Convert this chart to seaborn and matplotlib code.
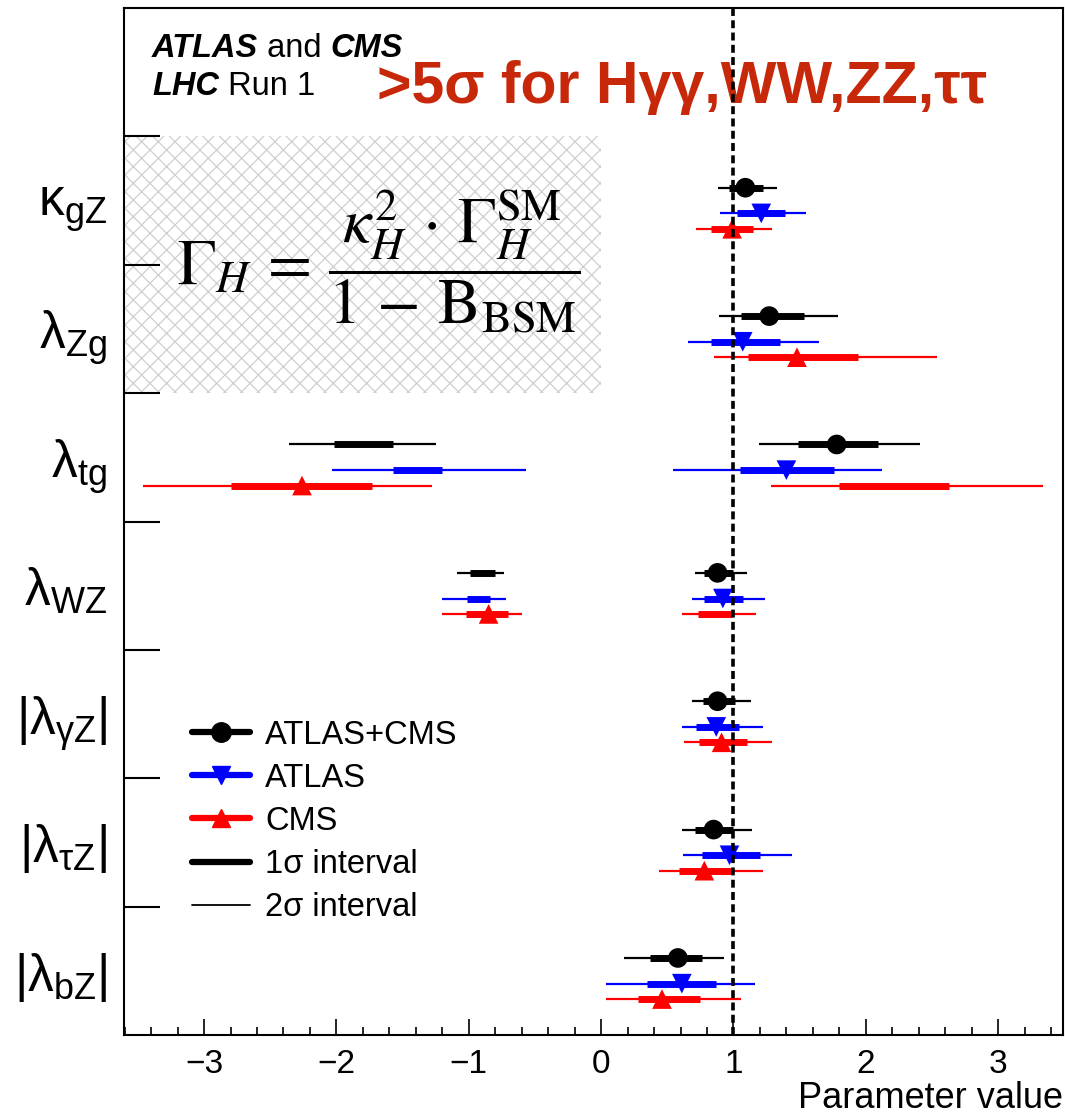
import numpy as np
import pandas as pd
import matplotlib
matplotlib.use('Agg')
import matplotlib.pyplot as plt
import seaborn as sns
from matplotlib.lines import Line2D
from matplotlib.patches import Rectangle
from matplotlib.ticker import MultipleLocator

# parameters, top to bottom
params = [r'$\mathrm{κ}_{\mathrm{gZ}}$', r'$\mathrm{λ}_{\mathrm{Zg}}$', r'$\mathrm{λ}_{\mathrm{tg}}$',
          r'$\mathrm{λ}_{\mathrm{WZ}}$', r'$\mathrm{|λ}_{\mathrm{γZ}}\mathrm{|}$',
          r'$\mathrm{|λ}_{\mathrm{τZ}}\mathrm{|}$', r'$\mathrm{|λ}_{\mathrm{bZ}}\mathrm{|}$']

experiments = ['ATLAS+CMS', 'ATLAS', 'CMS']

# best-fit values
comb_central = [1.09, 1.27, 1.78, 0.88, 0.88, 0.85, 0.58]
atlas_central = [1.21, 1.07, 1.40, 0.92, 0.87, 0.97, 0.61]
cms_central = [0.99, 1.48, -2.26, -0.85, 0.91, 0.78, 0.46]

# 1 sigma / 2 sigma intervals (some are split in two)
comb_1s = [[(0.97, 1.22)], [(1.06, 1.53)], [(-2.02, -1.57), (1.49, 2.09)], [(-0.99, -0.80), (0.78, 1.00)],
           [(0.77, 1.01)], [(0.71, 1.00)], [(0.37, 0.76)]]
comb_2s = [[(0.88, 1.33)], [(0.89, 1.79)], [(-2.36, -1.25), (1.19, 2.41)], [(-1.09, -0.73), (0.71, 1.10)],
           [(0.69, 1.13)], [(0.61, 1.14)], [(0.17, 0.93)]]
atlas_1s = [[(1.03, 1.39)], [(0.83, 1.35)], [(-1.57, -1.20), (1.05, 1.76)], [(-1.01, -0.84), (0.78, 1.07)],
            [(0.72, 1.04)], [(0.76, 1.20)], [(0.35, 0.87)]]
atlas_2s = [[(0.90, 1.55)], [(0.66, 1.65)], [(-2.03, -0.57), (0.54, 2.12)], [(-1.20, -0.72), (0.69, 1.24)],
            [(0.61, 1.22)], [(0.62, 1.44)], [(0.04, 1.16)]]
cms_1s = [[(0.83, 1.15)], [(1.11, 1.94)], [(-2.80, -1.73), (1.80, 2.63)], [(-1.02, -0.70), (0.73, 0.99)],
          [(0.74, 1.10)], [(0.59, 1.00)], [(0.28, 0.75)]]
cms_2s = [[(0.72, 1.29)], [(0.85, 2.54)], [(-3.46, -1.28), (1.28, 3.34)], [(-1.20, -0.60), (0.61, 1.17)],
          [(0.63, 1.29)], [(0.44, 1.22)], [(0.04, 1.06)]]

colors = {'ATLAS+CMS': 'black', 'ATLAS': '#0000ff', 'CMS': '#ff0000'}
markers = {'ATLAS+CMS': 'o', 'ATLAS': 'v', 'CMS': '^'}
offsets = {'ATLAS+CMS': 0.40, 'ATLAS': 0.60, 'CMS': 0.72}
centrals = {'ATLAS+CMS': comb_central, 'ATLAS': atlas_central, 'CMS': cms_central}
one_sig = {'ATLAS+CMS': comb_1s, 'ATLAS': atlas_1s, 'CMS': cms_1s}
two_sig = {'ATLAS+CMS': comb_2s, 'ATLAS': atlas_2s, 'CMS': cms_2s}

rows = []
for exp in experiments:
    for i, v in enumerate(centrals[exp]):
        rows.append({'experiment': exp, 'value': v, 'y': i + 1 + offsets[exp]})
df = pd.DataFrame(rows)

sns.set_style('ticks')
plt.rcParams['font.family'] = ['Liberation Sans', 'DejaVu Sans']
plt.rcParams['mathtext.fontset'] = 'custom'
plt.rcParams['mathtext.rm'] = 'Liberation Sans'
plt.rcParams['mathtext.it'] = 'Liberation Sans:italic'
plt.rcParams['mathtext.bf'] = 'Liberation Sans:bold'
plt.rcParams['hatch.linewidth'] = 0.9
plt.rcParams['axes.linewidth'] = 1.5
for k in ['text.color', 'axes.labelcolor', 'xtick.color', 'ytick.color', 'axes.edgecolor']:
    plt.rcParams[k] = 'black'

fig = plt.figure(figsize=(10.65, 11.19), dpi=100)
ax = fig.add_axes([124 / 1065, 84 / 1119, 939 / 1065, 1027 / 1119])

xmin, xmax = -3.605, 3.49
ax.set_xlim(xmin, xmax)
ax.set_ylim(8, 0)

# hatched box behind the formula
ax.add_patch(Rectangle((xmin, 1), 0 - xmin, 2, facecolor='white', edgecolor='#cfcfcf',
                       hatch='xx', lw=0, zorder=0.5))

for exp in experiments:
    c = colors[exp]
    for i in range(7):
        y = i + 1 + offsets[exp]
        for lo, hi in two_sig[exp][i]:
            ax.hlines(y, lo, hi, color=c, lw=1.6, zorder=2)
        for lo, hi in one_sig[exp][i]:
            ax.hlines(y, lo, hi, color=c, lw=5, zorder=3)

sns.scatterplot(data=df, x='value', y='y', hue='experiment', style='experiment',
                palette=colors, markers=markers, s=200, linewidth=0, legend=False, zorder=4, ax=ax)

ax.axvline(1, color='black', ls=(0, (2.2, 1.2)), lw=2.6, zorder=5)

# axes / ticks
ax.set_xticks(range(-3, 4))
ax.xaxis.set_minor_locator(MultipleLocator(0.2))
ax.tick_params(axis='x', which='major', direction='in', length=11.5, width=1.2, labelsize=24, pad=10)
ax.tick_params(axis='x', which='minor', direction='in', length=6, width=1.2)
ax.set_yticks([i + 1.5 for i in range(7)], params)
ax.set_yticks(range(1, 8), minor=True)
ax.tick_params(axis='y', which='major', length=0, labelsize=37, pad=12)
ax.tick_params(axis='y', which='minor', direction='in', length=26, width=1.5)
ax.set_xlabel('Parameter value', loc='right', fontsize=26, labelpad=1)
ax.set_ylabel('')

# header
hs = 23.5
t1 = ax.text(0.0298, 0.952, 'ATLAS', transform=ax.transAxes, fontsize=hs, weight='bold',
             style='italic', va='baseline')
t2 = ax.annotate(' and ', xy=(1, 0), xycoords=t1, fontsize=hs, va='bottom')
ax.annotate('CMS', xy=(1, 0), xycoords=t2, fontsize=hs, weight='bold', style='italic', va='bottom')
t4 = ax.text(0.0298, 0.915, 'LHC', transform=ax.transAxes, fontsize=hs, weight='bold',
             style='italic', va='baseline')
ax.annotate(' Run 1', xy=(1, 0), xycoords=t4, fontsize=hs, va='bottom')

ax.text(0.269, 0.9075, '>5σ for Hγγ,WW,ZZ,ττ', transform=ax.transAxes, color='#c8280a',
        fontsize=42.5, weight='bold', va='baseline')

ax.text(0.2716, 0.753, r'$\Gamma_H\,=\,\dfrac{\kappa_H^2\,\cdot\,\Gamma_H^{\mathrm{SM}}}{1\,-\,\mathrm{B}_{\mathrm{BSM}}}$',
        transform=ax.transAxes, math_fontfamily='stix', fontsize=46, ha='center', va='center', zorder=3)

handles = [Line2D([], [], color='black', lw=4.5, marker='o', ms=14),
           Line2D([], [], color='#0000ff', lw=4.5, marker='v', ms=13),
           Line2D([], [], color='#ff0000', lw=4.5, marker='^', ms=13),
           Line2D([], [], color='black', lw=4.5),
           Line2D([], [], color='black', lw=1.3)]
labels = ['ATLAS+CMS', 'ATLAS', 'CMS', '1σ interval', '2σ interval']
ax.legend(handles, labels, loc='center left', bbox_to_anchor=(0.0724, 0.208), frameon=False,
          fontsize=23.5, handlelength=1.78, handletextpad=0.46, labelspacing=0.37,
          borderaxespad=0, borderpad=0)

fig.savefig('out.png', dpi=100)
